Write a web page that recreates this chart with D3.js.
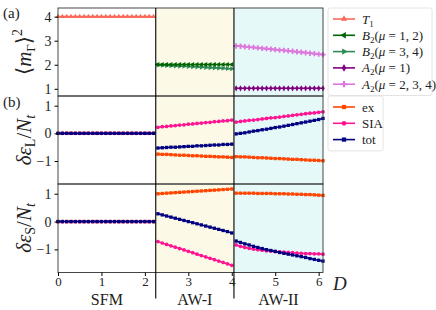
<!DOCTYPE html>
<html>
<head>
<meta charset="utf-8">
<script src="https://cdn.jsdelivr.net/npm/d3@7"></script>
<style>
  body { margin: 0; background: #fff; }
  svg text { font-family: "Liberation Serif", "DejaVu Serif", serif; fill: #222; }
</style>
</head>
<body>
<div id="chart"></div>
<script>
// D values per phase
var dSFM = [0.0,0.1,0.2,0.3,0.4,0.5,0.6,0.7,0.8,0.9,1.0,1.1,1.2,1.3,1.4,1.5,1.6,1.7,1.8,1.9,2.0,2.1,2.2];
var dAW1 = [2.3,2.4,2.5,2.6,2.7,2.8,2.9,3.0,3.1,3.2,3.3,3.4,3.5,3.6,3.7,3.8,3.9,4.0];
var dAW2 = [4.1,4.2,4.3,4.4,4.5,4.6,4.7,4.8,4.9,5.0,5.1,5.2,5.3,5.4,5.5,5.6,5.7,5.8,5.9,6.0,6.1];

var phases = ['SFM', 'AW-I', 'AW-II'];
var phaseEdges = [0, 2.25, 4.05, 6.1];
var xTicks = [0, 1, 2, 3, 4, 5, 6];

// panel (a): <m_Gamma>^2
var t1 = [4,4,4,4,4,4,4,4,4,4,4,4,4,4,4,4,4,4,4,4,4,4,4];
var b2a = [2.01,2.01,2.01,2.01,2.01,2.01,2.01,2.01,2.01,2.01,2.01,2.01,2.01,2.01,2.01,2.01,2.01,2.01];
var b2b = [1.99,1.98,1.97,1.96,1.95,1.94,1.94,1.93,1.92,1.91,1.90,1.89,1.88,1.87,1.86,1.85,1.84,1.83];
var a2a = [1.02,1.02,1.02,1.02,1.02,1.02,1.02,1.02,1.02,1.02,1.02,1.02,1.02,1.02,1.02,1.02,1.02,1.02,1.02,1.02,1.02];
var a2b = [2.78,2.77,2.75,2.73,2.72,2.70,2.68,2.67,2.65,2.63,2.61,2.60,2.58,2.56,2.54,2.52,2.50,2.48,2.46,2.44,2.42];

// panel (b) middle: delta eps_L / N_t
var zeroSFM = [0,0,0,0,0,0,0,0,0,0,0,0,0,0,0,0,0,0,0,0,0,0,0];
var lEx1  = [-0.75,-0.76,-0.76,-0.77,-0.78,-0.79,-0.79,-0.80,-0.81,-0.81,-0.82,-0.83,-0.83,-0.84,-0.85,-0.85,-0.86,-0.87];
var lSia1 = [0.22,0.24,0.25,0.27,0.28,0.30,0.31,0.33,0.34,0.36,0.37,0.39,0.40,0.42,0.43,0.45,0.46,0.48];
var lTot1 = [-0.53,-0.52,-0.51,-0.50,-0.50,-0.49,-0.48,-0.47,-0.47,-0.45,-0.45,-0.44,-0.43,-0.42,-0.42,-0.40,-0.40,-0.39];
var lEx2  = [-0.84,-0.85,-0.85,-0.86,-0.87,-0.88,-0.88,-0.89,-0.90,-0.91,-0.91,-0.92,-0.93,-0.94,-0.94,-0.95,-0.96,-0.97,-0.97,-0.98,-0.99];
var lSia2 = [0.41,0.43,0.45,0.47,0.48,0.50,0.52,0.54,0.56,0.57,0.59,0.61,0.63,0.65,0.67,0.69,0.71,0.73,0.74,0.76,0.78];
var lTot2 = [-0.02,0.00,0.02,0.05,0.08,0.10,0.13,0.15,0.18,0.21,0.23,0.26,0.29,0.32,0.35,0.38,0.41,0.44,0.47,0.50,0.54];

// panel (b) bottom: delta eps_S / N_t
var sEx1  = [1.00,1.01,1.02,1.03,1.04,1.05,1.06,1.07,1.08,1.09,1.10,1.11,1.12,1.13,1.14,1.15,1.16,1.17];
var sSia1 = [-0.72,-0.77,-0.82,-0.87,-0.92,-0.97,-1.02,-1.07,-1.12,-1.17,-1.22,-1.27,-1.32,-1.37,-1.42,-1.47,-1.52,-1.57];
var sTot1 = [0.28,0.24,0.20,0.16,0.12,0.08,0.04,0.00,-0.04,-0.08,-0.12,-0.16,-0.20,-0.24,-0.28,-0.32,-0.36,-0.41];
var sEx2  = [1.02,1.02,1.02,1.02,1.02,1.01,1.01,1.01,1.01,1.00,1.00,1.00,0.99,0.99,0.98,0.98,0.97,0.97,0.96,0.95,0.94];
var sSia2 = [-0.84,-0.89,-0.93,-0.96,-0.99,-1.01,-1.03,-1.05,-1.06,-1.08,-1.09,-1.10,-1.11,-1.12,-1.13,-1.14,-1.15,-1.15,-1.16,-1.16,-1.17];
var sTot2 = [-0.70,-0.75,-0.80,-0.84,-0.89,-0.93,-0.97,-1.01,-1.04,-1.07,-1.11,-1.14,-1.17,-1.20,-1.23,-1.26,-1.29,-1.33,-1.36,-1.39,-1.42];

var C = {t1: '#fa6a5a', b2a: '#006400', b2b: '#2e8b57', a2a: '#800080', a2b: '#dd77dd',
         ex: '#ff4500', sia: '#ff1493', tot: '#000080'};

var width = 436, height = 310;
var left = 58, right = 323;

var svg = d3.select('#chart').append('svg')
    .attr('width', width).attr('height', height);

var x = d3.scaleLinear().domain([0, 6.1]).range([left, right]);

var panels = [
  {top: 8,  bottom: 96,  domain: [0.7, 4.36], ticks: [1, 2, 3, 4]},
  {top: 96, bottom: 184, domain: [-1.83, 1.35], ticks: [-1, 0, 1]},
  {top: 184, bottom: 272.5, domain: [-1.83, 1.35], ticks: [-1, 0, 1]}
];
panels.forEach(function (p) {
  p.y = d3.scaleLinear().domain(p.domain).range([p.bottom, p.top]);
});

// phase backgrounds
var bgCol = [null, '#fcfae6', '#e6f9f9'];
panels.forEach(function (p) {
  [1, 2].forEach(function (k) {
    svg.append('rect')
      .attr('x', x(phaseEdges[k])).attr('y', p.top)
      .attr('width', x(phaseEdges[k + 1]) - x(phaseEdges[k]))
      .attr('height', p.bottom - p.top)
      .attr('fill', bgCol[k]);
  });
});

function symbolFor(kind) {
  switch (kind) {
    case 'tri': return d3.symbolTriangle;
    case 'diamond': return d3.symbolDiamond;
    case 'plus': return d3.symbolCross;
    case 'square': return d3.symbolSquare;
    case 'circle': return d3.symbolCircle;
    case 'pent': return d3.symbolSquare;
  }
  return d3.symbolCircle;
}

function drawSeries(g, p, xs, ys, color, marker, rot) {
  var pts = xs.map(function (d, i) { return [d, ys[i]]; });
  g.append('path')
    .datum(pts)
    .attr('fill', 'none')
    .attr('stroke', color)
    .attr('stroke-width', 1.6)
    .attr('d', d3.line().x(function (d) { return x(d[0]); }).y(function (d) { return p.y(d[1]); }));
  var sym = d3.symbol().type(symbolFor(marker)).size(marker === 'plus' ? 16 : 11);
  g.selectAll(null).data(pts).enter().append('path')
    .attr('d', sym)
    .attr('fill', color)
    .attr('transform', function (d) {
      return 'translate(' + x(d[0]) + ',' + p.y(d[1]) + ')' + (rot ? ' rotate(' + rot + ')' : '');
    });
}

var gA = svg.append('g');
drawSeries(gA, panels[0], dSFM, t1, C.t1, 'tri', 0);
drawSeries(gA, panels[0], dAW1, b2b, C.b2b, 'tri', 90);
drawSeries(gA, panels[0], dAW1, b2a, C.b2a, 'tri', -90);
drawSeries(gA, panels[0], dAW2, a2a, C.a2a, 'diamond', 0);
drawSeries(gA, panels[0], dAW2, a2b, C.a2b, 'plus', 0);

var gL = svg.append('g');
drawSeries(gL, panels[1], dSFM, zeroSFM, C.ex, 'square', 0);
drawSeries(gL, panels[1], dSFM, zeroSFM, C.sia, 'circle', 0);
drawSeries(gL, panels[1], dSFM, zeroSFM, C.tot, 'pent', 0);
drawSeries(gL, panels[1], dAW1, lEx1, C.ex, 'square', 0);
drawSeries(gL, panels[1], dAW1, lSia1, C.sia, 'circle', 0);
drawSeries(gL, panels[1], dAW1, lTot1, C.tot, 'pent', 0);
drawSeries(gL, panels[1], dAW2, lEx2, C.ex, 'square', 0);
drawSeries(gL, panels[1], dAW2, lSia2, C.sia, 'circle', 0);
drawSeries(gL, panels[1], dAW2, lTot2, C.tot, 'pent', 0);

var gS = svg.append('g');
drawSeries(gS, panels[2], dSFM, zeroSFM, C.ex, 'square', 0);
drawSeries(gS, panels[2], dSFM, zeroSFM, C.sia, 'circle', 0);
drawSeries(gS, panels[2], dSFM, zeroSFM, C.tot, 'pent', 0);
drawSeries(gS, panels[2], dAW1, sEx1, C.ex, 'square', 0);
drawSeries(gS, panels[2], dAW1, sSia1, C.sia, 'circle', 0);
drawSeries(gS, panels[2], dAW1, sTot1, C.tot, 'pent', 0);
drawSeries(gS, panels[2], dAW2, sEx2, C.ex, 'square', 0);
drawSeries(gS, panels[2], dAW2, sSia2, C.sia, 'circle', 0);
drawSeries(gS, panels[2], dAW2, sTot2, C.tot, 'pent', 0);

// frames, y axes
panels.forEach(function (p) {
  svg.append('rect')
    .attr('x', left).attr('y', p.top)
    .attr('width', right - left).attr('height', p.bottom - p.top)
    .attr('fill', 'none').attr('stroke', '#333').attr('stroke-width', 0.9);
  var ax = svg.append('g')
    .attr('transform', 'translate(' + left + ',0)')
    .call(d3.axisLeft(p.y).tickValues(p.ticks).tickSize(3.5).tickPadding(3)
      .tickFormat(function (d) { return d < 0 ? '\u2212' + Math.abs(d) : d; }));
  ax.select('.domain').remove();
  ax.selectAll('text').style('font-size', '14px').attr('fill', '#222');
});

// phase boundaries
[2.25, 4.05].forEach(function (b) {
  svg.append('line')
    .attr('x1', x(b)).attr('x2', x(b))
    .attr('y1', panels[0].top).attr('y2', panels[2].bottom + 26)
    .attr('stroke', '#000').attr('stroke-width', 1.1);
});

// x axis
var xa = svg.append('g')
  .attr('transform', 'translate(0,' + panels[2].bottom + ')')
  .call(d3.axisBottom(x).tickValues(xTicks).tickSize(3.5).tickPadding(1)
    .tickFormat(d3.format('d')));
xa.select('.domain').remove();
xa.selectAll('text').style('font-size', '13px').attr('fill', '#222');

// phase names
svg.selectAll('.phase').data(phases).enter().append('text')
  .attr('x', function (d, i) { return x((phaseEdges[i] + phaseEdges[i + 1]) / 2); })
  .attr('y', 305)
  .attr('text-anchor', 'middle')
  .style('font-size', '16px')
  .text(function (d) { return d; });

svg.append('text').attr('x', 333).attr('y', 290)
  .style('font-size', '19px').style('font-style', 'italic').text('D');

// panel tags
svg.append('text').attr('x', 3).attr('y', 18).style('font-size', '15px').text('(a)');
svg.append('text').attr('x', 3).attr('y', 107).style('font-size', '15px').text('(b)');

// y labels
function yLabel(cy, build) {
  var t = svg.append('text')
    .attr('transform', 'translate(31,' + cy + ') rotate(-90)')
    .attr('text-anchor', 'middle')
    .style('font-size', '21px');
  build(t);
}
yLabel(52, function (t) {
  t.append('tspan').text('\u27E8');
  t.append('tspan').style('font-style', 'italic').text('m');
  t.append('tspan').attr('dy', 4).style('font-size', '13px').text('\u0393');
  t.append('tspan').attr('dy', -4).text('\u27E9');
  t.append('tspan').attr('dy', -9).style('font-size', '14px').text('2');
});
yLabel(140, function (t) {
  t.append('tspan').style('font-style', 'italic').text('\u03B4\u03B5');
  t.append('tspan').attr('dy', 4).style('font-size', '14px').text('L');
  t.append('tspan').attr('dy', -4).text('/');
  t.append('tspan').style('font-style', 'italic').text('N');
  t.append('tspan').attr('dy', 4).style('font-size', '14px').style('font-style', 'italic').text('t');
});
yLabel(228, function (t) {
  t.append('tspan').style('font-style', 'italic').text('\u03B4\u03B5');
  t.append('tspan').attr('dy', 4).style('font-size', '14px').text('S');
  t.append('tspan').attr('dy', -4).text('/');
  t.append('tspan').style('font-style', 'italic').text('N');
  t.append('tspan').attr('dy', 4).style('font-size', '14px').style('font-style', 'italic').text('t');
});

// legends
function legend(x0, y0, w, items) {
  var rowH = 16.3;
  var g = svg.append('g').attr('transform', 'translate(' + x0 + ',' + y0 + ')');
  g.append('rect').attr('width', w).attr('height', items.length * rowH + 6)
    .attr('rx', 2).attr('fill', '#fff').attr('stroke', '#ddd').attr('stroke-width', 0.8);
  items.forEach(function (it, i) {
    var yy = 11 + i * rowH;
    g.append('line').attr('x1', 5).attr('x2', 27).attr('y1', yy).attr('y2', yy)
      .attr('stroke', it.color).attr('stroke-width', 1.6);
    g.append('path')
      .attr('d', d3.symbol().type(symbolFor(it.marker)).size(it.marker === 'plus' ? 22 : 18)())
      .attr('fill', it.color)
      .attr('transform', 'translate(16,' + yy + ')' + (it.rot ? ' rotate(' + it.rot + ')' : ''));
    var t = g.append('text').attr('x', 34).attr('y', yy + 4.5).style('font-size', '13px');
    it.label(t);
  });
}
function sub(t, main, s, rest) {
  t.append('tspan').style('font-style', 'italic').text(main);
  t.append('tspan').attr('dy', 3).style('font-size', '9px').text(s);
  if (rest) {
    t.append('tspan').attr('dy', -3).text('(');
    t.append('tspan').style('font-style', 'italic').text('\u03BC');
    t.append('tspan').text(' = ' + rest + ')');
  }
}
legend(328, 8, 104, [
  {color: C.t1, marker: 'tri', rot: 0, label: function (t) { sub(t, 'T', '1'); }},
  {color: C.b2a, marker: 'tri', rot: -90, label: function (t) { sub(t, 'B', '2', '1, 2'); }},
  {color: C.b2b, marker: 'tri', rot: 90, label: function (t) { sub(t, 'B', '2', '3, 4'); }},
  {color: C.a2a, marker: 'diamond', rot: 0, label: function (t) { sub(t, 'A', '2', '1'); }},
  {color: C.a2b, marker: 'plus', rot: 0, label: function (t) { sub(t, 'A', '2', '2, 3, 4'); }}
]);
legend(328, 96, 55, [
  {color: C.ex, marker: 'square', label: function (t) { t.text('ex'); }},
  {color: C.sia, marker: 'circle', label: function (t) { t.text('SIA'); }},
  {color: C.tot, marker: 'pent', label: function (t) { t.text('tot'); }}
]);
</script>
</body>
</html>
